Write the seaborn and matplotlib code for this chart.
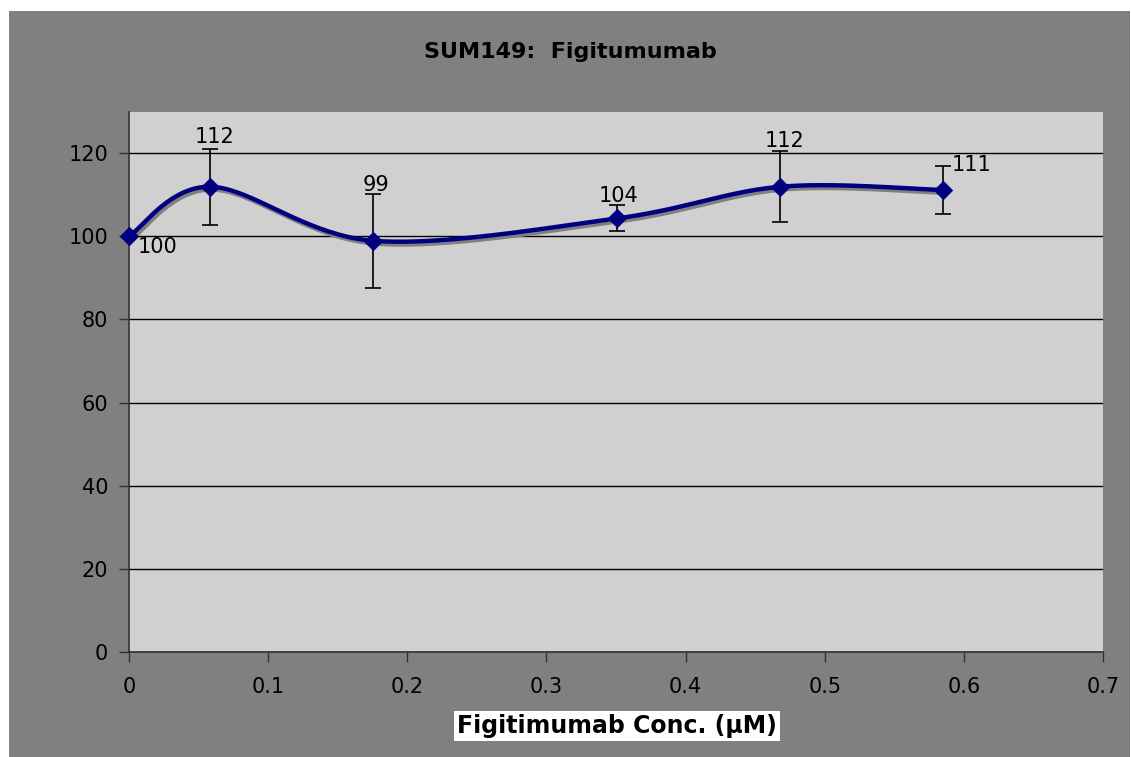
#!/usr/bin/env python3
import numpy as np
import pandas as pd
import seaborn as sns
from matplotlib import pyplot as plt
from matplotlib import patheffects as pe
from matplotlib.patches import Rectangle

# data
conc = [0.0, 0.0585, 0.1755, 0.351, 0.468, 0.585]
viability = [100, 111.9, 98.9, 104.3, 111.9, 111.1]
err = [0, 9.2, 11.3, 3.1, 8.5, 5.8]
labels = ["100", "112", "99", "104", "112", "111"]
# where each data label sits relative to its point (points)
label_offsets = [(20.5, -7.6), (2.9, 36), (2.2, 40.3), (0.7, 16.3), (2.9, 33), (20.9, 18)]

x_ticks = [0, 0.1, 0.2, 0.3, 0.4, 0.5, 0.6, 0.7]
y_ticks = [0, 20, 40, 60, 80, 100, 120]


def smooth(xs, ys, w, h, xr, yr, n=40):
    # excel-ish smoothed line: bezier with catmull-rom control points, done in pixel space
    P = np.column_stack([np.array(xs) / xr * w, np.array(ys) / yr * h])
    pts = []
    for i in range(len(P) - 1):
        p0 = P[max(i - 1, 0)]
        p1 = P[i]
        p2 = P[i + 1]
        p3 = P[min(i + 2, len(P) - 1)]
        c1 = p1 + (p2 - p0) / 6
        c2 = p2 - (p3 - p1) / 6
        t = np.linspace(0, 1, n)[:, None]
        seg = ((1 - t) ** 3) * p1 + 3 * ((1 - t) ** 2) * t * c1 + 3 * (1 - t) * t ** 2 * c2 + t ** 3 * p2
        pts.append(seg if i == 0 else seg[1:])
    pts = np.vstack(pts)
    return pts[:, 0] * xr / w, pts[:, 1] * yr / h


sns.set_style("white")
plt.rcParams['font.family'] = ['DejaVu Sans']
plt.rcParams['text.color'] = 'black'

fig = plt.figure(figsize=(11.31, 7.57), dpi=100)
fig.patch.set_facecolor("white")
fig.patches.append(Rectangle((9 / 1131, 0), 1121 / 1131, 746 / 757, transform=fig.transFigure,
                             facecolor="#808080", edgecolor="none", zorder=-5))

ax = fig.add_axes([129 / 1131, 105 / 757, 974 / 1131, 540.5 / 757])
ax.set_facecolor("#d0d0d0")

sx, sy = smooth(conc, viability, 974, 540.5, 0.7, 130)
curve = pd.DataFrame({"conc": sx, "viab": sy})
sns.lineplot(data=curve, x="conc", y="viab", ax=ax, color="#000080", linewidth=3.2, zorder=4,
             estimator=None, sort=False,
             path_effects=[pe.SimpleLineShadow(offset=(1.5, -2), shadow_color="#808080", alpha=1),
                           pe.Normal()])

ax.errorbar(conc, viability, yerr=err, fmt="none", ecolor="black", elinewidth=1.2,
            capsize=6, capthick=1.2, zorder=5)
pts = pd.DataFrame({"conc": conc, "viab": viability})
sns.scatterplot(data=pts, x="conc", y="viab", ax=ax, marker="D", s=85, color="#000080",
                edgecolor="#000080", zorder=6, clip_on=False)

for xv, yv, lab, off in zip(conc, viability, labels, label_offsets):
    ax.annotate(lab, (xv, yv), xytext=off, textcoords="offset points", ha="center", va="center",
                fontsize=15, color="black", zorder=7)

ax.set_xlim(0, 0.7)
ax.set_ylim(0, 130)
ax.set_xticks(x_ticks)
ax.set_xticklabels([f"{v:g}" for v in x_ticks])
ax.set_yticks(y_ticks)
ax.grid(axis="y", color="black", linewidth=1)
ax.grid(axis="x", visible=False)
ax.set_axisbelow(True)
for s in ["top", "right"]:
    ax.spines[s].set_visible(False)
for s in ["left", "bottom"]:
    ax.spines[s].set_color("#333333")
    ax.spines[s].set_linewidth(1.2)
ax.tick_params(axis="both", direction="out", length=7, width=1, color="#333333",
               labelsize=15, labelcolor="black", left=True, bottom=True)
ax.tick_params(axis="x", pad=11)
ax.tick_params(axis="y", pad=8)
ax.set_xlabel("")
ax.set_ylabel("")

fig.text(570 / 1131, 1 - 52 / 757, "SUM149:  Figitumumab", ha="center", va="center",
         fontsize=16, fontweight="bold", color="black")
fig.text(617 / 1131, 1 - 726 / 757, "Figitimumab Conc. (\u00b5M)", ha="center", va="center",
         fontsize=17, fontweight="bold", color="black",
         bbox=dict(facecolor="white", edgecolor="none", pad=2))

fig.savefig("out.png", dpi=100)
